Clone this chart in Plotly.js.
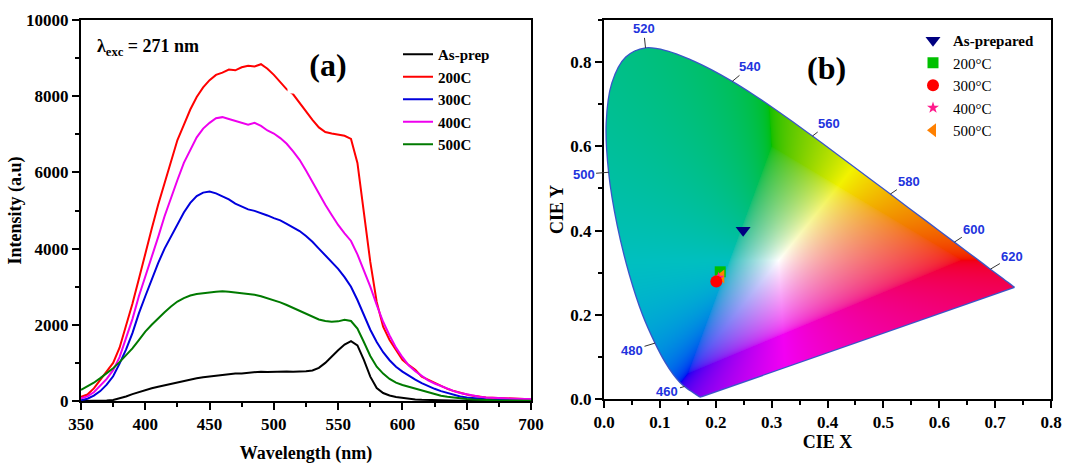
<!DOCTYPE html>
<html><head><meta charset="utf-8">
<script src="https://cdn.plot.ly/plotly-3.0.1.min.js"></script>
<style>html,body{margin:0;padding:0;background:#fff}#chart{width:1068px;height:464px}</style>
</head><body><div id="chart"></div>
<script>
// ---------- Panel (a) data ----------
const wavelength = [350,355,360,365,370,375,380,385,390,395,400,405,410,415,420,425,430,435,440,445,450,455,460,465,470,475,480,485,490,495,500,505,510,515,520,525,530,535,540,545,550,555,560,565,570,575,580,585,590,595,600,605,610,615,620,625,630,635,640,645,650,655,660,665,670,675,680,685,690,695,700];
const asPrep = [0,0,2,5,12,28,70,120,180,235,290,335,375,415,455,490,525,560,595,625,645,670,690,705,720,725,740,755,770,760,770,765,775,765,770,780,800,870,1000,1170,1330,1480,1570,1460,1080,640,340,210,145,105,78,56,42,32,25,19,14,10,8,6,5,4,3,2,2,1,1,0,0,0,0];
const t200 = [110,170,330,560,780,1000,1400,1950,2550,3200,3900,4520,5150,5720,6300,6850,7250,7650,7980,8230,8420,8560,8620,8700,8680,8760,8800,8780,8840,8720,8560,8380,8180,8050,7820,7580,7380,7180,7060,7020,6990,6960,6880,6250,4950,3650,2600,1950,1600,1340,1080,940,820,640,560,470,400,320,260,210,170,135,110,95,85,75,70,65,60,55,55];
const t300 = [20,60,140,260,430,650,980,1350,1780,2300,2750,3200,3620,4000,4330,4650,4950,5200,5380,5470,5500,5450,5380,5290,5180,5100,5030,4990,4940,4870,4800,4740,4650,4560,4460,4330,4180,4000,3820,3640,3470,3250,3000,2650,2250,1870,1550,1280,1070,900,770,660,560,470,390,320,260,210,160,120,90,70,55,45,35,30,25,20,15,15,10];
const t400 = [70,120,230,400,580,810,1150,1650,2150,2750,3250,3800,4300,4850,5350,5800,6250,6600,6920,7150,7300,7420,7450,7400,7350,7280,7250,7300,7220,7100,7020,6900,6750,6550,6330,6050,5750,5420,5150,4880,4620,4400,4200,3850,3450,3000,2520,2080,1720,1400,1150,930,780,650,540,460,390,320,260,210,170,135,110,90,80,70,65,60,55,50,50];
const t500 = [290,380,480,600,720,860,1020,1200,1380,1600,1820,2000,2170,2330,2480,2610,2700,2770,2810,2840,2850,2870,2880,2870,2850,2840,2820,2790,2750,2700,2650,2590,2520,2440,2360,2280,2210,2140,2100,2080,2090,2130,2100,1900,1550,1180,900,720,580,480,420,370,320,270,220,180,140,110,85,65,50,40,30,25,20,15,12,10,8,6,5];
const seriesNames = ['As-prep','200C','300C','400C','500C'];
const seriesColors = ['#000000','#ff0000','#0000dd','#ee00ee','#007a00'];

// ---------- Panel (b) data: CIE 1931 spectral locus ----------
const locusWl = [380,385,390,395,400,405,410,415,420,425,430,435,440,445,450,455,460,465,470,475,480,485,490,495,500,505,510,515,520,525,530,535,540,545,550,555,560,565,570,575,580,585,590,595,600,605,610,615,620,625,630,635,640,645,650,655,660,665,670,675,680,685,690,695,700];
const locusX = [0.1741,0.1740,0.1738,0.1736,0.1733,0.1730,0.1726,0.1721,0.1714,0.1703,0.1689,0.1669,0.1644,0.1611,0.1566,0.1510,0.1440,0.1355,0.1241,0.1096,0.0913,0.0687,0.0454,0.0235,0.0082,0.0039,0.0139,0.0389,0.0743,0.1142,0.1547,0.1929,0.2296,0.2658,0.3016,0.3373,0.3731,0.4087,0.4441,0.4788,0.5125,0.5448,0.5752,0.6029,0.6270,0.6482,0.6658,0.6801,0.6915,0.7006,0.7079,0.7140,0.7190,0.7230,0.7260,0.7283,0.7300,0.7311,0.7320,0.7327,0.7334,0.7340,0.7344,0.7346,0.7347];
const locusY = [0.0050,0.0050,0.0049,0.0049,0.0048,0.0048,0.0048,0.0048,0.0051,0.0058,0.0069,0.0086,0.0109,0.0138,0.0177,0.0227,0.0297,0.0399,0.0578,0.0868,0.1327,0.2007,0.2950,0.4127,0.5384,0.6548,0.7502,0.8120,0.8338,0.8262,0.8059,0.7816,0.7543,0.7243,0.6923,0.6589,0.6245,0.5896,0.5547,0.5202,0.4866,0.4544,0.4242,0.3965,0.3725,0.3514,0.3340,0.3197,0.3083,0.2993,0.2920,0.2859,0.2809,0.2770,0.2740,0.2717,0.2700,0.2689,0.2680,0.2673,0.2666,0.2660,0.2656,0.2654,0.2653];
const locusLabels = [460,480,500,520,540,560,580,600,620];
const labelOffX = [-17,-23,-25,-2,18,17,19,20,22];
const labelOffY = [5,7,2,-19,-15,-13,-13,-13,-13];

const cieNames = ['<b>As-prepared</b>','200°C','300°C','400°C','500°C'];
const cieX = [0.249,0.208,0.201,0.205,0.210];
const cieY = [0.401,0.302,0.279,0.288,0.291];
const cieSymbols = ['triangle-down','square','circle','star','triangle-left'];
const cieColors = ['#000080','#00c000','#ff0000','#ff1a8c','#ff8000'];
const cieSizes = [13,11,12,9,12];

// ---------- smooth boundary (for the raster mask only) ----------
function smoothBoundary(xs, ys, steps){
  const px=[], py=[], n=xs.length;
  for(let i=0;i<n-1;i++){
    const i0=Math.max(i-1,0), i3=Math.min(i+2,n-1);
    for(let s=0;s<steps;s++){
      const t=s/steps, t2=t*t, t3=t2*t;
      const f=(a,b,c,d)=>0.5*((2*b)+(-a+c)*t+(2*a-5*b+4*c-d)*t2+(-a+3*b-3*c+d)*t3);
      px.push(f(xs[i0],xs[i],xs[i+1],xs[i3])); py.push(f(ys[i0],ys[i],ys[i+1],ys[i3]));
    }
  }
  px.push(xs[n-1]); py.push(ys[n-1]);
  return [px,py];
}
const [polyX, polyY] = smoothBoundary(locusX, locusY, 8);
function insideLocus(px, py){
  let inside=false; const n=polyX.length;
  for(let i=0,j=n-1;i<n;j=i++){
    const xi=polyX[i], yi=polyY[i], xj=polyX[j], yj=polyY[j];
    if(((yi>py)!==(yj>py)) && (px < (xj-xi)*(py-yi)/(yj-yi)+xi)) inside=!inside;
  }
  return inside;
}
const NX=447, NY=379, DX=0.8/NX, DY=0.9/NY;
const img=[];
for(let r=0;r<NY;r++){
  const row=[]; const py=(r+0.5)*DY;
  for(let c=0;c<NX;c++){
    const px=(c+0.5)*DX;
    if(!insideLocus(px,py)){ row.push([255,255,255,0]); continue; }
    const X=px/py, Y=1, Z=(1-px-py)/py;
    let R= 3.2406*X-1.5372*Y-0.4986*Z;
    let G=-0.9689*X+1.8758*Y+0.0415*Z;
    let B= 0.0557*X-0.2040*Y+1.0570*Z;
    const mn=Math.min(R,G,B);
    if(mn<0){R-=mn;G-=mn;B-=mn;}
    const m=Math.max(R,G,B)||1;
    R/=m; G/=m; B/=m;
    const w=Math.min(R,G,B);
    const k=Math.min(1,0.95+0.05*w-0.2*Math.max(0,G-R));
    const e=1/2.2;
    row.push([Math.round(255*k*Math.pow(R,e)),Math.round(255*k*Math.pow(G,e)),Math.round(255*k*Math.pow(B,e)),1]);
  }
  img.push(row);
}

const serif='Liberation Serif';
const traces=[];
const ys=[asPrep,t200,t300,t400,t500];
for(let i=0;i<5;i++){
  traces.push({type:'scatter',mode:'lines',x:wavelength,y:ys[i],name:seriesNames[i],
    line:{color:seriesColors[i],width:2},xaxis:'x',yaxis:'y',legend:'legend',hoverinfo:'skip'});
}
traces.push({type:'image',z:img,colormodel:'rgba',x0:DX/2,y0:DY/2,dx:DX,dy:DY,xaxis:'x2',yaxis:'y2',hoverinfo:'skip'});
traces.push({type:'scatter',mode:'lines',x:locusX,y:locusY,
  line:{color:'#3a55c8',width:1.3,shape:'spline',smoothing:1},xaxis:'x2',yaxis:'y2',showlegend:false,hoverinfo:'skip'});
traces.push({type:'scatter',mode:'lines',x:[locusX[locusX.length-1],locusX[0]],y:[locusY[locusY.length-1],locusY[0]],
  line:{color:'#3a55c8',width:1.3},xaxis:'x2',yaxis:'y2',showlegend:false,hoverinfo:'skip'});
const drawOrder=[0,1,4,3,2];
for(const i of drawOrder){
  traces.push({type:'scatter',mode:'markers',x:[cieX[i]],y:[cieY[i]],name:cieNames[i],legendrank:i+1,
    marker:{symbol:cieSymbols[i],color:cieColors[i],size:cieSizes[i],line:{width:0}},
    xaxis:'x2',yaxis:'y2',legend:'legend2',hoverinfo:'skip'});
}

const W=1068,H=464;
const tickF={family:serif,size:17,color:'#000',weight:'bold'};
const titleF={family:serif,size:18,color:'#000',weight:'bold'};
function ax(o){return Object.assign({showgrid:false,zeroline:false,showline:true,linewidth:2,linecolor:'#000',mirror:true,
  ticks:'outside',ticklen:7,tickwidth:2,tickcolor:'#000',tickfont:tickF},o);}

const annotations=[
  {xref:'paper',yref:'paper',x:95/W,y:(H-48)/H,xanchor:'left',yanchor:'middle',showarrow:false,
   text:'λ<sub>exc</sub> = 271 nm',font:{family:serif,size:18,color:'#000',weight:'bold'}},
  {xref:'paper',yref:'paper',x:328/W,y:(H-64.5)/H,xanchor:'center',yanchor:'middle',showarrow:false,
   width:80,height:57,bgcolor:'#ffffff',borderpad:0,
   text:'(a)',font:{family:serif,size:32,color:'#000',weight:'bold'}},
  {xref:'paper',yref:'paper',x:826/W,y:(H-68)/H,xanchor:'center',yanchor:'middle',showarrow:false,
   text:'(b)',font:{family:serif,size:32,color:'#000',weight:'bold'}}
];
locusLabels.forEach((wl,k)=>{
  const idx=locusWl.indexOf(wl);
  annotations.push({xref:'x2',yref:'y2',x:locusX[idx],y:locusY[idx],ax:labelOffX[k],ay:labelOffY[k],
    text:String(wl),showarrow:true,arrowhead:0,arrowwidth:1,arrowcolor:'#333',standoff:0,
    font:{family:'Liberation Sans',size:13,color:'#2233dd',weight:'bold'}});
});

const layout={
  width:W,height:H,margin:{l:0,r:0,t:0,b:0},paper_bgcolor:'#fff',plot_bgcolor:'rgba(0,0,0,0)',
  showlegend:true,
  xaxis:ax({domain:[81/W,531/W],range:[350,700],tick0:350,dtick:50,anchor:'y',
    minor:{dtick:25,ticks:'outside',ticklen:4,tickwidth:2,tickcolor:'#000',showgrid:false},
    title:{text:'Wavelength (nm)',font:titleF,standoff:15}}),
  yaxis:ax({domain:[(H-401)/H,(H-20)/H],range:[0,10000],tick0:0,dtick:2000,tickformat:'d',anchor:'x',
    minor:{dtick:1000,ticks:'outside',ticklen:4,tickwidth:2,tickcolor:'#000',showgrid:false},
    title:{text:'Intensity (a.u)',font:titleF,standoff:0}}),
  xaxis2:ax({domain:[604/W,1051/W],range:[0,0.8],tick0:0,dtick:0.1,tickformat:'.1f',anchor:'y2',
    minor:{dtick:0.05,ticks:'outside',ticklen:4,tickwidth:2,tickcolor:'#000',showgrid:false},
    title:{text:'CIE X',font:titleF,standoff:2}}),
  yaxis2:ax({domain:[(H-399)/H,(H-20)/H],range:[0,0.9],tick0:0,dtick:0.2,tickformat:'.1f',anchor:'x2',scaleanchor:false,
    minor:{dtick:0.1,ticks:'outside',ticklen:4,tickwidth:2,tickcolor:'#000',showgrid:false},
    title:{text:'CIE Y',font:titleF,standoff:2}}),
  legend:{x:398/W,y:(H-38)/H,xanchor:'left',yanchor:'top',bgcolor:'rgba(0,0,0,0)',borderwidth:0,
    font:{family:serif,size:15,color:'#000',weight:'bold'},itemwidth:30,tracegroupgap:0},
  legend2:{x:913/W,y:(H-24)/H,xanchor:'left',yanchor:'top',bgcolor:'rgba(0,0,0,0)',borderwidth:0,
    font:{family:serif,size:15,color:'#000'},itemwidth:30,tracegroupgap:0,traceorder:'normal'},
  annotations:annotations
};
Plotly.newPlot('chart',traces,layout,{displayModeBar:false,staticPlot:true});
</script></body></html>
